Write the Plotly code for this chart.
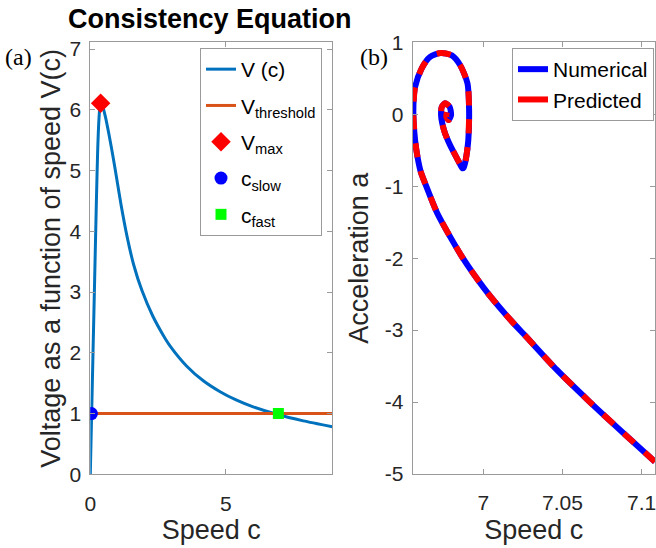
import plotly.graph_objects as go

# ---------------- data: panel (a) ----------------
c_speed = [0.0, 0.05, 0.10, 0.16, 0.22, 0.27, 0.32, 0.36, 0.38, 0.45, 0.55, 0.70,
           0.85, 1.00, 1.13, 1.35, 1.60, 1.91, 2.30, 2.69, 2.94, 3.56, 4.17, 4.79,
           5.40, 6.01, 6.88, 7.86, 8.93]
v_speed = [0.0, 1.0, 2.0, 3.2, 4.4, 5.3, 5.85, 6.07, 6.11, 6.07, 5.90, 5.57,
           5.20, 4.80, 4.45, 3.93, 3.45, 3.02, 2.61, 2.29, 2.115, 1.78, 1.54, 1.36,
           1.22, 1.11, 0.988, 0.88, 0.784]
thr_c = [0.0, 8.93]
thr_v = [1.0, 1.0]
vmax_c, vmax_v = [0.38], [6.11]
cslow_c, cslow_v = [0.04], [1.0]
cfast_c, cfast_v = [6.94], [1.0]

# ---------------- data: panel (b) ----------------
spiral_c = [7.1084, 7.0884, 7.0673, 7.0463, 7.0274, 7.0168, 7.0042, 6.9958, 6.9874,
            6.9790, 6.9706, 6.9632, 6.9605, 6.9585, 6.9569, 6.9558, 6.9569, 6.9611,
            6.9664, 6.9730, 6.9801, 6.9853, 6.9900, 6.9910, 6.9905, 6.9890, 6.9876,
            6.9868, 6.9850, 6.9811, 6.9780, 6.9758, 6.9740, 6.9733, 6.9738, 6.9758,
            6.9787, 6.9796, 6.9781, 6.9766, 6.9770]
spiral_a = [-4.83, -4.43, -4.00, -3.55, -3.10, -2.85, -2.525, -2.28, -2.01,
            -1.70, -1.36, -0.957, -0.80, -0.60, -0.357, 0.036, 0.38, 0.64,
            0.80, 0.852, 0.82, 0.686, 0.43, 0.08, -0.36, -0.62, -0.74,
            -0.75, -0.68, -0.52, -0.38, -0.264, -0.12, -0.01, 0.105, 0.153,
            0.105, -0.01, -0.08, -0.033, 0.03]

# ---------------- axis ticks ----------------
ax_x_ticks = [0, 5]
ax_y_ticks = [0, 1, 2, 3, 4, 5, 6, 7]
bx_x_ticks = [7, 7.05, 7.1]
bx_x_text = ["7", "7.05", "7.1"]
by_y_ticks = [-5, -4, -3, -2, -1, 0, 1]
by_y_text = ["-5", "-4", "-3", "-2", "-1", "0", "1"]

W, H = 656, 548
FONT = "Liberation Sans"
TXT = "#262626"
AX = "#9a9a9a"

fig = go.Figure()

# panel (a)
fig.add_trace(go.Scatter(x=c_speed, y=v_speed, mode="lines", name="V (c)",
                         line=dict(color="#0072BD", width=3, shape="spline", smoothing=0.6),
                         xaxis="x", yaxis="y", legend="legend", legendgroup="a1"))
fig.add_trace(go.Scatter(x=thr_c, y=thr_v, mode="lines", name="V<sub>threshold</sub>",
                         line=dict(color="#D95319", width=3),
                         xaxis="x", yaxis="y", legend="legend", legendgroup="a2"))
fig.add_trace(go.Scatter(x=vmax_c, y=vmax_v, mode="markers", name="V<sub>max</sub>",
                         marker=dict(symbol="diamond", color="#FF0000", size=15),
                         xaxis="x", yaxis="y", legend="legend", legendgroup="a3"))
fig.add_trace(go.Scatter(x=cslow_c, y=cslow_v, mode="markers", name="c<sub>slow</sub>",
                         marker=dict(symbol="circle", color="#0000FF", size=13),
                         xaxis="x", yaxis="y", legend="legend", legendgroup="a4"))
fig.add_trace(go.Scatter(x=cfast_c, y=cfast_v, mode="markers", name="c<sub>fast</sub>",
                         marker=dict(symbol="square", color="#00FF00", size=11),
                         xaxis="x", yaxis="y", legend="legend", legendgroup="a5"))

# panel (b)
fig.add_trace(go.Scatter(x=spiral_c, y=spiral_a, mode="lines", name="Numerical",
                         line=dict(color="#0000FF", width=6, shape="spline", smoothing=0.7),
                         xaxis="x2", yaxis="y2", showlegend=False))
fig.add_trace(go.Scatter(x=spiral_c, y=spiral_a, mode="lines", name="Predicted",
                         line=dict(color="#FF0000", width=6, dash="14px,14px",
                                   shape="spline", smoothing=0.7),
                         xaxis="x2", yaxis="y2", showlegend=False))
# legend entries for panel (b) (solid swatches as in the original)
fig.add_trace(go.Scatter(x=[None], y=[None], mode="lines", name="Numerical",
                         line=dict(color="#0000FF", width=6),
                         xaxis="x2", yaxis="y2", legend="legend2"))
fig.add_trace(go.Scatter(x=[None], y=[None], mode="lines", name="Predicted",
                         line=dict(color="#FF0000", width=6),
                         xaxis="x2", yaxis="y2", legend="legend2"))

def px_x(p):
    return p / W

def px_y(p):
    return 1 - p / H

common_axis = dict(showline=True, linecolor=AX, linewidth=1, mirror="ticks",
                   ticks="inside", ticklen=5, tickcolor=AX, showgrid=False,
                   zeroline=False, automargin=False, ticklabeloverflow="allow",
                   tickfont=dict(family=FONT, size=21, color=TXT))
title_font = dict(family=FONT, size=27, color=TXT)

fig.update_layout(
    template="none",
    width=W, height=H, margin=dict(l=0, r=0, t=0, b=0, autoexpand=False),
    paper_bgcolor="white", plot_bgcolor="white",
    font=dict(family=FONT, color=TXT),
    xaxis=dict(domain=[px_x(90.3), px_x(332.3)], range=[0, 8.93], anchor="y",
               tickvals=ax_x_ticks, ticklabelstandoff=10,
               title=dict(text="Speed c", font=title_font, standoff=6),
               **common_axis),
    yaxis=dict(domain=[px_y(474.3), px_y(42.4)], range=[0, 7.11], anchor="x",
               tickvals=ax_y_ticks, ticklabelstandoff=4,
               title=dict(text="Voltage as a function of speed V(c)",
                          font=title_font, standoff=0),
               **common_axis),
    xaxis2=dict(domain=[px_x(412.7), px_x(655.0)], range=[6.9554, 7.1084], anchor="y2",
                tickvals=bx_x_ticks, ticktext=bx_x_text, ticklabelstandoff=10,
                title=dict(text="Speed c", font=title_font, standoff=6),
                **common_axis),
    yaxis2=dict(domain=[px_y(474.0), px_y(42.4)], range=[-5, 1], anchor="x2",
                tickvals=by_y_ticks, ticktext=by_y_text, ticklabelstandoff=4,
                title=dict(text="Acceleration a", font=title_font, standoff=8),
                **common_axis),
    legend=dict(x=px_x(200), y=px_y(48), xanchor="left", yanchor="top",
                bgcolor="white", bordercolor=AX, borderwidth=1,
                font=dict(family=FONT, size=21, color="#000000"),
                tracegroupgap=6, itemwidth=30),
    legend2=dict(x=px_x(512), y=px_y(48), xanchor="left", yanchor="top",
                 bgcolor="white", bordercolor=AX, borderwidth=1,
                 font=dict(family=FONT, size=21, color="#000000"),
                 itemwidth=30),
    annotations=[
        dict(text="<b>Consistency Equation</b>", xref="paper", yref="paper",
             x=px_x(210), y=px_y(19), xanchor="center", yanchor="middle",
             showarrow=False, font=dict(family=FONT, size=27, color="#000000")),
        dict(text="(a)", xref="paper", yref="paper", x=px_x(18.5), y=px_y(57),
             xanchor="center", yanchor="middle", showarrow=False,
             font=dict(family="Liberation Serif", size=24, color="#000000")),
        dict(text="(b)", xref="paper", yref="paper", x=px_x(373.5), y=px_y(57),
             xanchor="center", yanchor="middle", showarrow=False,
             font=dict(family="Liberation Serif", size=24, color="#000000")),
    ],
)

fig.write_html("out.html")
